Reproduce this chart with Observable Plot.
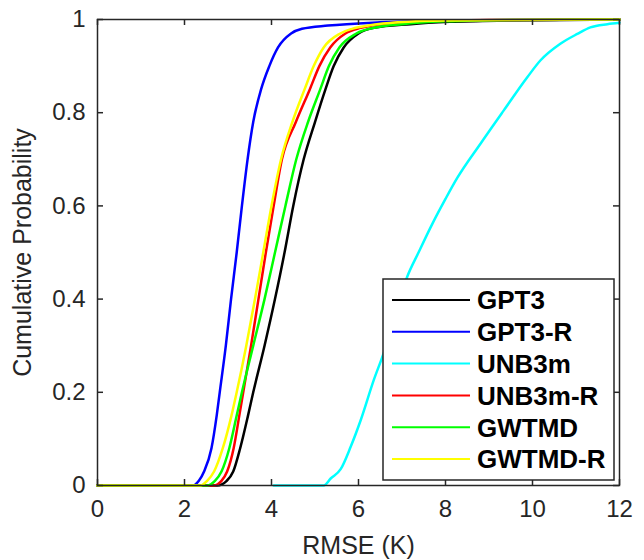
<!DOCTYPE html>
<html><head><meta charset="utf-8">
<script src="https://cdn.jsdelivr.net/npm/d3@7"></script>
<script src="https://cdn.jsdelivr.net/npm/@observablehq/plot@0.6"></script>
<style>
body{margin:0;background:#fff;}
#wrap{position:relative;width:644px;height:560px;font-family:"Liberation Sans",Arial,Helvetica,sans-serif;}
#legend{position:absolute;left:382px;top:278px;}
</style></head><body><div id="wrap"></div>
<script>
// Series names and colours
const seriesNames = ["GPT3", "GPT3-R", "UNB3m", "UNB3m-R", "GWTMD", "GWTMD-R"];
const seriesColors = ["#000000", "#0000ff", "#00ffff", "#ff0000", "#00ff00", "#ffff00"];

// CDF points: [RMSE (K), cumulative probability]
const gpt3 = [[0,0],[2.75,0],[2.97,0.01],[3.12,0.03],[3.28,0.08],[3.46,0.15],[3.58,0.2],[3.84,0.3],[4.08,0.4],[4.3,0.5],[4.5,0.6],[4.74,0.7],[5.0,0.78],[5.24,0.85],[5.43,0.9],[5.66,0.94],[6.0,0.97],[6.35,0.982],[7.2,0.99],[8.1,0.995],[9.5,0.998],[12,1]];
const gpt3R = [[0,0],[2.2,0],[2.33,0.01],[2.45,0.03],[2.62,0.08],[2.74,0.15],[2.81,0.2],[2.95,0.3],[3.07,0.4],[3.2,0.5],[3.32,0.6],[3.45,0.7],[3.58,0.78],[3.76,0.85],[3.95,0.9],[4.15,0.94],[4.45,0.97],[4.7,0.98],[5.3,0.987],[6.5,0.994],[8,0.998],[12,1]];
const unb3m = [[4.05,0],[5.2,0],[5.36,0.015],[5.59,0.035],[5.82,0.083],[6.05,0.14],[6.35,0.226],[6.6,0.29],[6.85,0.37],[7.12,0.448],[7.38,0.5],[7.7,0.562],[8.0,0.615],[8.27,0.66],[8.8,0.733],[9.34,0.805],[9.88,0.876],[10.18,0.912],[10.64,0.948],[11.03,0.969],[11.33,0.983],[11.72,0.99],[12,0.993]];
const unb3mR = [[0,0],[2.67,0],[2.85,0.01],[2.98,0.03],[3.13,0.08],[3.26,0.15],[3.35,0.2],[3.53,0.3],[3.7,0.4],[3.87,0.5],[4.05,0.6],[4.24,0.7],[4.56,0.78],[4.88,0.85],[5.1,0.9],[5.35,0.94],[5.7,0.97],[6.05,0.982],[6.5,0.99],[7.5,0.996],[9,0.999],[12,1]];
const gwtmd = [[0,0],[2.52,0],[2.7,0.01],[2.85,0.03],[3.03,0.08],[3.2,0.15],[3.32,0.2],[3.58,0.3],[3.84,0.4],[4.08,0.5],[4.32,0.6],[4.57,0.7],[4.84,0.78],[5.12,0.85],[5.32,0.9],[5.56,0.94],[5.95,0.97],[6.4,0.983],[7.0,0.99],[8.0,0.996],[9.5,0.999],[12,1]];
const gwtmdR = [[0,0],[2.37,0],[2.52,0.01],[2.68,0.03],[2.88,0.08],[3.08,0.15],[3.2,0.2],[3.42,0.3],[3.62,0.4],[3.81,0.5],[4.0,0.6],[4.22,0.7],[4.48,0.78],[4.76,0.85],[4.97,0.9],[5.2,0.94],[5.58,0.97],[5.85,0.98],[6.3,0.988],[6.9,0.994],[8,0.998],[12,1]];

// Axis ticks
const xTicks = [0, 2, 4, 6, 8, 10, 12];
const yTicks = [0, 0.2, 0.4, 0.6, 0.8, 1];
const yTickLabels = ["0", "0.2", "0.4", "0.6", "0.8", "1"];

const seriesData = [gpt3, gpt3R, unb3m, unb3mR, gwtmd, gwtmdR];
const rows = seriesData.flatMap((pts, i) => pts.map(([x, p]) => ({series: seriesNames[i], x, p})));

const axisColor = "#262626";
const font = "'Liberation Sans', Arial, Helvetica, sans-serif";

const W = 644, H = 560, mL = 97, mR = 25, mT = 19, mB = 75;
const frameW = W - mL - mR, frameH = H - mT - mB, tickLen = 6;
const tickStyle = {stroke: axisColor, strokeWidth: 1.5};

const chart = Plot.plot({
  width: W,
  height: H,
  marginLeft: mL,
  marginRight: mR,
  marginTop: mT,
  marginBottom: mB,
  x: {domain: [0, 12]},
  y: {domain: [0, 1]},
  color: {domain: seriesNames, range: seriesColors},
  style: {fontFamily: font, color: axisColor, background: "white", overflow: "visible"},
  marks: [
    Plot.line(rows, {x: "x", y: "p", z: "series", stroke: "series", strokeWidth: 2.5, curve: "monotone-x"}),
    Plot.frame({stroke: axisColor, strokeWidth: 1.5}),
    Plot.axisX({ticks: xTicks, tickSize: 0, tickPadding: 14, fontSize: 24, fill: axisColor,
      label: "RMSE (K)", labelAnchor: "center", labelOffset: 68, labelArrow: "none"}),
    Plot.axisY({ticks: yTicks, tickSize: 0, tickPadding: 12, fontSize: 24, fill: axisColor,
      tickFormat: (d) => yTickLabels[yTicks.indexOf(d)],
      label: "Cumulative Probability", labelAnchor: "center", labelOffset: 84, labelArrow: "none"}),
    // inward tick marks on all four sides
    Plot.ruleX(xTicks, {x: (d) => d, insetTop: frameH - tickLen, ...tickStyle}),
    Plot.ruleX(xTicks, {x: (d) => d, insetBottom: frameH - tickLen, ...tickStyle}),
    Plot.ruleY(yTicks, {y: (d) => d, insetRight: frameW - tickLen, ...tickStyle}),
    Plot.ruleY(yTicks, {y: (d) => d, insetLeft: frameW - tickLen, ...tickStyle})
  ]
});

const wrap = document.getElementById("wrap");
wrap.appendChild(chart);

// axis title font size
d3.select(chart).selectAll("[aria-label$='axis label'] text").attr("font-size", 25);

// Legend box
const legW = 231, legH = 201, rowH = 31.8, firstRow = 21;
const leg = d3.select(wrap).append("svg")
  .attr("id", "legend")
  .attr("width", legW + 2).attr("height", legH + 2);
leg.append("rect").attr("x", 1).attr("y", 1).attr("width", legW).attr("height", legH)
  .attr("fill", "white").attr("stroke", axisColor).attr("stroke-width", 1.5);
seriesNames.forEach((name, i) => {
  const cy = 1 + firstRow + i * rowH;
  leg.append("line").attr("x1", 10).attr("x2", 88).attr("y1", cy).attr("y2", cy)
    .attr("stroke", seriesColors[i]).attr("stroke-width", 2);
  leg.append("text").attr("x", 95).attr("y", cy).attr("dy", "0.36em")
    .attr("font-family", font).attr("font-weight", "bold").attr("font-size", 26)
    .attr("fill", "#000").text(name);
});
</script>
</body></html>
